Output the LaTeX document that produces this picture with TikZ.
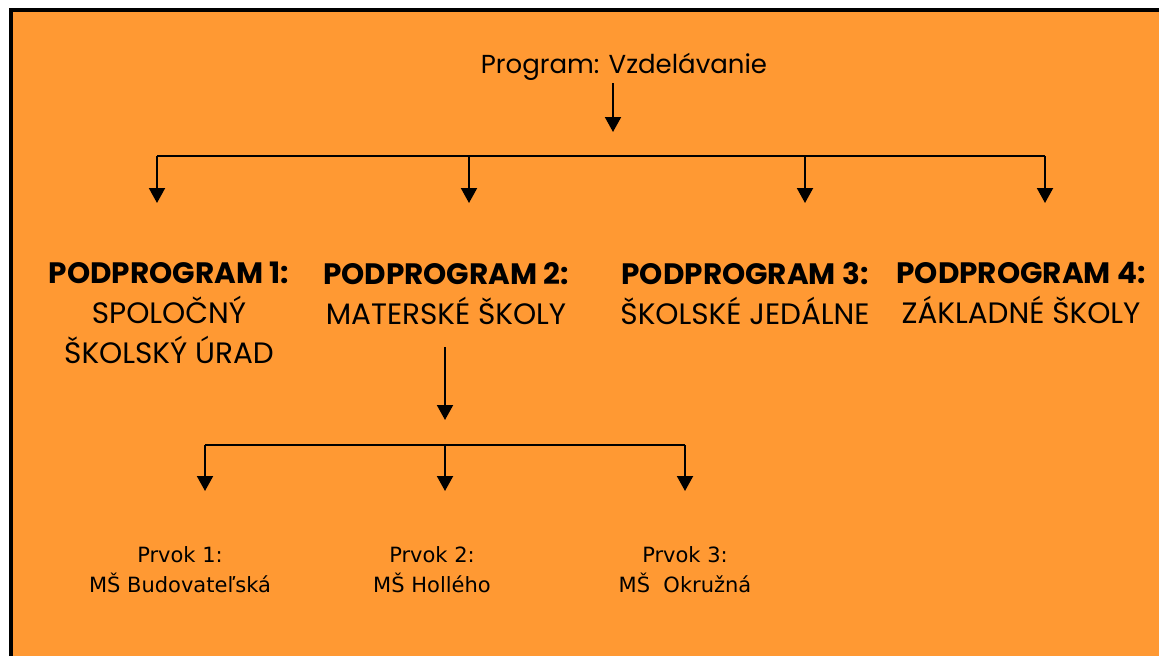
\documentclass[tikz,border=0pt]{standalone}
\usepackage{fontspec}
\setmainfont{DejaVu Sans}
\newfontfamily\geo{Poppins}
\usetikzlibrary{arrows.meta}
\definecolor{bgorange}{RGB}{255,153,51}
\begin{document}
\begin{tikzpicture}[x=1pt,y=-1pt,
  wire/.style={line width=2pt},
  arr/.style={line width=2pt,-{Triangle[width=16pt,length=15pt]}},
  titletext/.style={font=\geo\fontsize{26}{32}\selectfont,inner sep=0pt},
  subprog/.style={font=\geo\fontsize{29.5}{40}\selectfont,align=center,inner sep=0pt,anchor=north},
  element/.style={font=\fontsize{21}{30}\selectfont,align=center,inner sep=0pt,anchor=north}]
\useasboundingbox (0,0) rectangle (1159,656);
% frame
\fill[white] (0,0) rectangle (1159,656);
\fill[bgorange] (11,10) rectangle (1159,656);
\draw[line width=4pt] (11,656) -- (11,10) -- (1159,10);

% top level
\node[titletext,anchor=base] (prog) at (624,73) {Program: Vzdelávanie};
\coordinate (t0) at (613,83);
\coordinate (t1) at (613,132);
\draw[arr] (t0) -- (t1);

% first distribution bar
\coordinate (bl) at (157,156);
\coordinate (b2) at (469,156);
\coordinate (b3) at (805,156);
\coordinate (br) at (1045,156);
\coordinate (e1) at (157,203);
\coordinate (e2) at (469,203);
\coordinate (e3) at (805,203);
\coordinate (e4) at (1045,203);
\draw[wire] (bl) -- (br);
\draw[arr] (bl) -- (e1);
\draw[arr] (b2) -- (e2);
\draw[arr] (b3) -- (e3);
\draw[arr] (br) -- (e4);

% subprograms
\node[subprog] (pp1) at (169,262) {\textbf{PODPROGRAM 1:}\\SPOLOČNÝ\\ŠKOLSKÝ ÚRAD};
\node[subprog] (pp2) at (446,262) {\textbf{PODPROGRAM 2:}\\MATERSKÉ ŠKOLY};
\node[subprog] (pp3) at (745,262) {\textbf{PODPROGRAM 3:}\\ŠKOLSKÉ JEDÁLNE};
\node[subprog] (pp4) at (1021,262) {\textbf{PODPROGRAM 4:}\\ZÁKLADNÉ ŠKOLY};

% second level
\coordinate (m0) at (445,347);
\coordinate (m1) at (445,420);
\draw[arr] (m0) -- (m1);
\coordinate (cl) at (205,445);
\coordinate (c2) at (445,445);
\coordinate (cr) at (685,445);
\coordinate (f1) at (205,491);
\coordinate (f2) at (445,491);
\coordinate (f3) at (685,491);
\draw[wire] (cl) -- (cr);
\draw[arr] (cl) -- (f1);
\draw[arr] (c2) -- (f2);
\draw[arr] (cr) -- (f3);

% elements
\node[element] (el1) at (180,546) {Prvok 1:\\MŠ Budovateľská};
\node[element] (el2) at (432,546) {Prvok 2:\\MŠ Hollého};
\node[element] (el3) at (685,546) {Prvok 3:\\MŠ\ \ Okružná};
\end{tikzpicture}
\end{document}
